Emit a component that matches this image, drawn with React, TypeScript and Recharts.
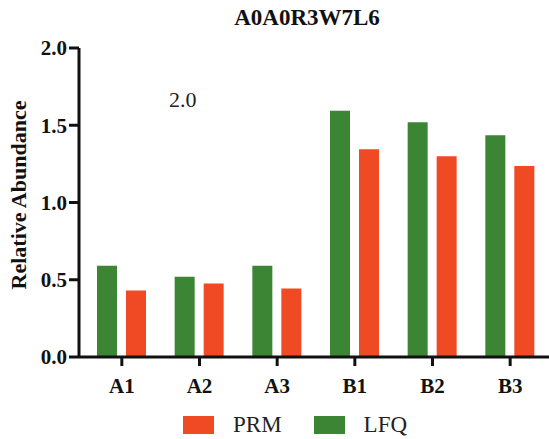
import { Bar, BarChart, Legend, XAxis, YAxis } from 'recharts';

const categories = ['A1', 'A2', 'A3', 'B1', 'B2', 'B3'];
const lfqValues = [0.59, 0.52, 0.59, 1.594, 1.52, 1.435];
const prmValues = [0.43, 0.475, 0.443, 1.344, 1.3, 1.236];
const yTicks = [0, 0.5, 1.0, 1.5, 2.0];

const GREEN = '#3b8534';
const RED = '#f04a25';
const FONT = '"Liberation Serif", "Times New Roman", serif';

const data = categories.map((name, i) => ({
  name,
  lfq: lfqValues[i],
  prm: prmValues[i],
}));

const legendItems = [
  { label: 'PRM', color: RED },
  { label: 'LFQ', color: GREEN },
];

function LegendBox() {
  return (
    <div style={{ display: 'flex', alignItems: 'center', paddingLeft: 183, fontFamily: FONT }}>
      {legendItems.map((item) => (
        <div key={item.label} style={{ display: 'flex', alignItems: 'center', marginRight: 32 }}>
          <span style={{ width: 31, height: 18, background: item.color, display: 'inline-block' }} />
          <span style={{ fontSize: 23, color: '#222', marginLeft: 19 }}>{item.label}</span>
        </div>
      ))}
    </div>
  );
}

export default function App() {
  return (
    <div style={{ position: 'absolute', left: 0, top: 0, background: '#fff' }}>
      <BarChart
        width={549}
        height={439}
        data={data}
        margin={{ top: 48, right: 0, bottom: 0, left: 0 }}
        barSize={20}
        barGap={9}
      >
        <text
          x={307}
          y={25}
          textAnchor="middle"
          fontFamily={FONT}
          fontWeight="bold"
          fontSize={23}
          fill="#111"
        >
          A0A0R3W7L6
        </text>
        <text x={169} y={107} fontFamily={FONT} fontSize={22} fill="#222">
          2.0
        </text>
        <text
          x={18}
          y={195}
          transform="rotate(-90 18 195)"
          textAnchor="middle"
          dominantBaseline="central"
          fontFamily={FONT}
          fontWeight="bold"
          fontSize={22}
          fill="#111"
        >
          Relative Abundance
        </text>
        <XAxis
          dataKey="name"
          height={82}
          padding={{ left: 4, right: 0 }}
          axisLine={{ stroke: '#111', strokeWidth: 3 }}
          tickLine={{ stroke: '#111', strokeWidth: 3 }}
          tickSize={9}
          tickMargin={12}
          tick={{ fill: '#111', fontSize: 21, fontWeight: 'bold', fontFamily: FONT }}
        />
        <YAxis
          width={79}
          domain={[0, 2]}
          ticks={yTicks}
          interval={0}
          tickFormatter={(v: number) => v.toFixed(1)}
          axisLine={{ stroke: '#111', strokeWidth: 3 }}
          tickLine={{ stroke: '#111', strokeWidth: 3 }}
          tickSize={10}
          tickMargin={2}
          tick={{ fill: '#111', fontSize: 21, fontWeight: 'bold', fontFamily: FONT }}
        />
        <Legend
          layout="horizontal"
          verticalAlign="middle"
          wrapperStyle={{ top: 412, left: 0, width: 549 }}
          content={() => <LegendBox />}
        />
        <Bar dataKey="lfq" name="LFQ" fill={GREEN} isAnimationActive={false} />
        <Bar dataKey="prm" name="PRM" fill={RED} isAnimationActive={false} />
      </BarChart>
    </div>
  );
}
